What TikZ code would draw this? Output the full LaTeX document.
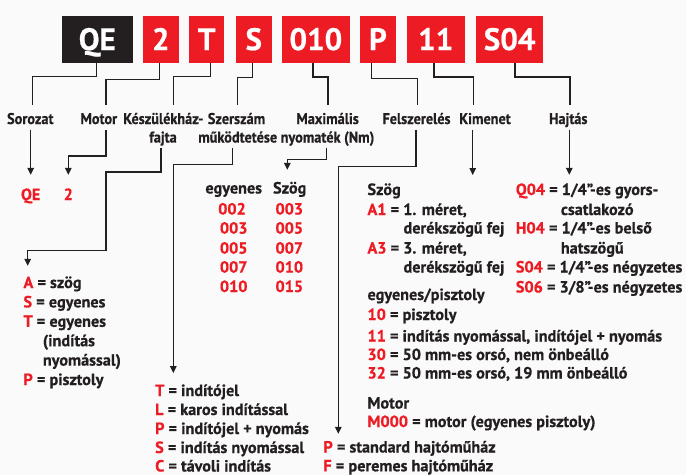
\documentclass[tikz,border=0pt]{standalone}
\usepackage{fontspec}
\setmainfont{PT Sans}[BoldFeatures={FakeBold=0.6}]
\newfontfamily\labfont{PT Sans}[FakeStretch=0.92,BoldFeatures={FakeBold=0.6}]
\usetikzlibrary{arrows.meta,calc}
\definecolor{qred}{RGB}{237,28,36}
\definecolor{qblk}{RGB}{35,31,32}
\definecolor{qbg}{RGB}{250,250,250}
\newcommand\rc[1]{\textcolor{qred}{#1}}
\tikzset{
  codebox/.style={fill=qred, text=white, font=\fontsize{31}{31}\selectfont\bfseries,
    minimum height=47pt, inner sep=0pt, text height=21.7pt, text depth=0pt},
  lab/.style={font=\fontsize{16.2}{18}\selectfont\bfseries, text=qblk, inner sep=0pt,
    anchor=base, text height=11pt, text depth=3pt},
  hdr/.style={lab, font=\labfont\fontsize{15.5}{18}\selectfont\bfseries},
  lst/.style={lab, anchor=base west},
  num/.style={lab, text=qred},
  conn/.style={draw=qblk, line width=1.3pt},
  arr/.style={conn, -{Triangle[length=7pt,width=6.5pt]}},
}
\begin{document}
\begin{tikzpicture}[x=1pt,y=-1pt]
\useasboundingbox (0,0) rectangle (686,475);
\fill[qbg] (0,0) rectangle (686,475);

% code boxes
\node[codebox, fill=qblk, minimum width=70.5pt] (qe) at (97.25,39.2) {QE};
\node[codebox, minimum width=35.5pt] (two) at (160.75,39.2) {2};
\node[codebox, minimum width=35.4pt] (tb) at (206.7,39.2) {T};
\node[codebox, minimum width=35.9pt] (sb) at (253.75,39.2) {S};
\node[codebox, minimum width=67.3pt] (nm) at (315.85,39.2) {010};
\node[codebox, minimum width=35.9pt] (pb) at (377.95,39.2) {P};
\node[codebox, minimum width=57.8pt] (ob) at (435.7,39.2) {11};
\node[codebox, minimum width=67.3pt] (hb) at (509.65,39.2) {S04};

% labels
\node[hdr] (sor) at (30.3,124) {Sorozat};
\node[hdr] (mot) at (98.8,124) {Motor};
\node[hdr] (kes1) at (163.3,124) {Készülékház-};
\node[hdr] (kes2) at (163,142.5) {fajta};
\node[hdr] (sze1) at (236.5,124) {Szerszám};
\node[hdr] (sze2) at (237.7,142.5) {működtetése};
\node[hdr] (max1) at (327.6,124) {Maximális};
\node[hdr] (max2) at (327.5,142.5) {nyomaték (Nm)};
\node[hdr] (fel) at (416.5,124) {Felszerelés};
\node[hdr] (kim) at (485,124) {Kimenet};
\node[hdr] (haj) at (568.3,124) {Hajtás};

% upper connectors
\draw[conn] ([xshift=-0.55pt]qe.south) -- ++(0,13.3) -| ([xshift=2.4pt,yshift=8pt]sor.north);
\draw[conn] ([xshift=-1.45pt]two.south) -- ++(0,16.3) -| ([xshift=7.2pt,yshift=8pt]mot.north);
\draw[conn] ([xshift=4pt]tb.south) -- ++(0,13.3) -| ([xshift=10pt,yshift=8pt]kes1.north);
\draw[conn] ([xshift=-1pt]sb.south) -- ++(0,14.3) -| ([xshift=1.2pt,yshift=8pt]sze1.north);
\draw[conn] ([xshift=-2.9pt]nm.south) -- ++(0,14) -| ([xshift=0.4pt,yshift=8pt]max1.north);
\draw[conn] ([xshift=-6.2pt]pb.south) -- ++(0,15.6) -| ([xshift=0.8pt,yshift=8pt]fel.north);
\draw[conn] ([xshift=-1.7pt]ob.south) -- ++(0,14) -| ([xshift=-11.7pt,yshift=8pt]kim.north);
\draw[conn] ([xshift=5.35pt]hb.south) -- ++(0,14) -| ([xshift=1.7pt,yshift=8pt]haj.north);

% red values
\node[num] (qer) at (30.7,200) {QE};
\node[num] (twor) at (68.3,200) {2};

% left list
\node[lst] (a1) at (23.3,288) {\rc{A} = szög};
\node[lst] (a2) at (23.3,307.4) {\rc{S} = egyenes};
\node[lst] (a3) at (23.3,326.8) {\rc{T} = egyenes};
\node[lst] (a4) at (42.7,346.2) {(indítás};
\node[lst] (a5) at (42.7,365.6) {nyomással)};
\node[lst] (a6) at (23.3,385) {\rc{P} = pisztoly};

% torque table
\node[lab] (egy) at (233.7,193.5) {egyenes};
\node[lab] (szog) at (289.7,193.5) {Szög};
\node[num] (e1) at (232,214.5) {002};
\node[num] (e2) at (233.7,233.6) {003};
\node[num] (e3) at (233.7,253.6) {005};
\node[num] (e4) at (233.7,272.6) {007};
\node[num] (e5) at (233.7,292) {010};
\node[num] (s1) at (289.3,214.5) {003};
\node[num] (s2) at (289.3,233.6) {005};
\node[num] (s3) at (289.3,253.6) {007};
\node[num] (s4) at (289.3,272.6) {010};
\node[num] (s5) at (289.3,292) {015};

% output block
\node[lst] (r1) at (367.3,195) {Szög};
\node[lst] (r2) at (367.3,215) {\rc{A1} = 1. méret,};
\node[lst] (r3) at (403.3,233.5) {derékszögű fej};
\node[lst] (r4) at (367.3,253.5) {\rc{A3} = 3. méret,};
\node[lst] (r5) at (403.3,272.5) {derékszögű fej};
\node[lst] (r6) at (367.3,300) {egyenes/pisztoly};
\node[lst] (r7) at (367.3,320) {\rc{10} = pisztoly};
\node[lst] (r8) at (367.3,341.5) {\rc{11} = indítás nyomással, indítójel + nyomás};
\node[lst] (r9) at (367.3,360) {\rc{30} = 50 mm-es orsó, nem önbeálló};
\node[lst] (r10) at (367.3,378.5) {\rc{32} = 50 mm-es orsó, 19 mm önbeálló};
\node[lst] (r11) at (367.3,408.5) {Motor};
\node[lst] (r12) at (367.3,427) {\rc{M000} = motor (egyenes pisztoly)};

% drive block
\node[lst] (q1) at (515.7,195) {\rc{Q04} = 1/4”-es gyors-};
\node[lst] (q2) at (560.7,215) {csatlakozó};
\node[lst] (q3) at (515.7,233.5) {\rc{H04} = 1/4”-es belső};
\node[lst] (q4) at (560.7,253.5) {hatszögű};
\node[lst] (q5) at (515.7,272.5) {\rc{S04} = 1/4”-es négyzetes};
\node[lst] (q6) at (515.7,292.5) {\rc{S06} = 3/8”-es négyzetes};

% actuation block
\node[lst] (t1) at (155,396) {\rc{T} = indítójel};
\node[lst] (t2) at (155,415) {\rc{L} = karos indítással};
\node[lst] (t3) at (155,434) {\rc{P} = indítójel + nyomás};
\node[lst] (t4) at (155,453) {\rc{S} = indítás nyomással};
\node[lst] (t5) at (155,471.5) {\rc{C} = távoli indítás};

% housing block
\node[lst] (p1) at (323.3,452.5) {\rc{P} = standard hajtóműház};
\node[lst] (p2) at (323.3,471.3) {\rc{F} = peremes hajtóműház};

\coordinate (kimend) at (472.7,175);

% lower connectors
\draw[arr] ([xshift=0.4pt,yshift=-2.5pt]sor.south) -- ([yshift=14pt]qer.north);
\draw[arr] ([xshift=7.2pt,yshift=-2.5pt]mot.south) -- ++(0,26.2) -| ([yshift=14pt]twor.north);
\draw[arr] ([xshift=-2pt,yshift=-2pt]kes2.south) -- ++(0,24.2) -- ++(-55,0) -- ++(0,78.3) -| ([xshift=4.4pt,yshift=11pt]a1.north west);
\draw[arr] ([xshift=-5pt,yshift=-2pt]sze2.south) -- ++(0,16.8) -| ([xshift=18.3pt,yshift=11.7pt]t1.north west);
\draw[arr] ([xshift=-0.8pt,yshift=-2pt]max2.south) -- ++(0,11.5) -| ([xshift=-2.4pt,yshift=12.5pt]szog.north);
\draw[arr] ([xshift=-0.5pt,yshift=-2.5pt]fel.south) -- ++(0,36.8) -| ([xshift=15pt,yshift=7.5pt]p1.north west);
\draw[arr] ([xshift=-12.3pt,yshift=-2.5pt]kim.south) -- (kimend);
\draw[arr] ([xshift=1pt,yshift=-2.5pt]haj.south) -- ([xshift=53.6pt,yshift=9pt]q1.north west);
\end{tikzpicture}
\end{document}
